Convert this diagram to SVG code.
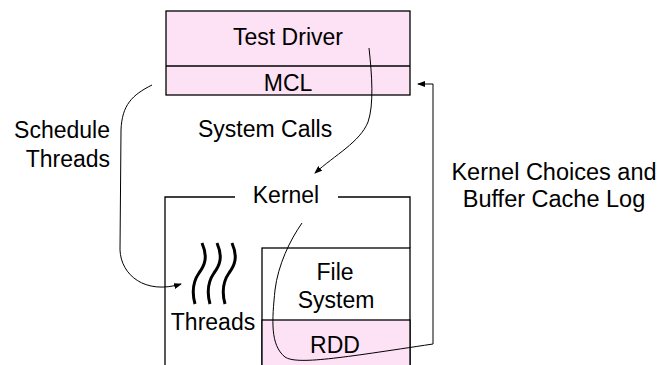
<svg xmlns="http://www.w3.org/2000/svg" width="664" height="365" viewBox="0 0 664 365">
<defs>
<marker id="ah" markerWidth="8" markerHeight="6" refX="7" refY="3" orient="auto" markerUnits="userSpaceOnUse">
<path d="M0,0 L8,3 L0,6 z" fill="#000"/>
</marker>
</defs>
<style>
text{font-family:"Liberation Sans",Arial,sans-serif;font-size:23px;fill:#000}
.c{text-anchor:middle}
.box{stroke:#000;stroke-width:1.3}
.pink{fill:#fde1f4}
.wire{fill:none;stroke:#000;stroke-width:1}
.sq{fill:none;stroke:#000;stroke-width:3}
</style>
<rect width="664" height="365" fill="#fff"/>
<g id="test-driver">
<rect class="box pink" x="166" y="11" width="244" height="84"/>
<line class="box" x1="166" y1="66" x2="410" y2="66"/>
<text class="c" x="288" y="45">Test Driver</text>
</g>
<g id="mcl">
<text class="c" x="288" y="91">MCL</text>
</g>
<g id="kernel">
<path class="box" fill="none" d="M235,197 H165 V366 M338,197 H410 V248"/>
<text class="c" x="286" y="203">Kernel</text>
</g>
<g id="file-system">
<rect class="box" fill="#fff" x="262" y="248" width="148" height="120"/>
<rect class="box pink" x="262" y="320" width="148" height="48"/>
<text class="c" x="335" y="280">File</text>
<text class="c" x="336" y="308">System</text>
</g>
<g id="rdd">
<text class="c" x="335" y="353">RDD</text>
</g>
<g id="threads">
<path class="sq" d="M202,243 C208,257 205,265 199,273 C192,283 192,293 195,304"/>
<path class="sq" d="M217,243 C223,257 220,265 214,273 C207,283 207,293 210,304"/>
<path class="sq" d="M232,243 C238,257 235,265 229,273 C222,283 222,293 225,304"/>
<text class="c" x="213" y="330">Threads</text>
</g>
<g id="labels">
<text x="110" y="138" text-anchor="end">Schedule</text>
<text x="110" y="167" text-anchor="end">Threads</text>
<text x="198" y="137">System Calls</text>
<text class="c" x="554" y="180" style="font-size:23.5px">Kernel Choices and</text>
<text class="c" x="554" y="207" style="font-size:23.5px">Buffer Cache Log</text>
</g>
<g id="connectors">
<path class="wire" marker-end="url(#ah)" d="M369,48 C372,75 374,105 368,122 C360,142 335,155 315,173"/>
<path class="wire" marker-end="url(#ah)" d="M152,85 C132,95 122,105 121,130 L120,250 C121,275 145,295 181,284"/>
<path class="wire" marker-end="url(#ah)" d="M302,223 C290,240 278,265 275,290 C272,320 270,345 285,357 C297,365 340,358 433,344 L433,84 L418,84"/>
</g>
</svg>
